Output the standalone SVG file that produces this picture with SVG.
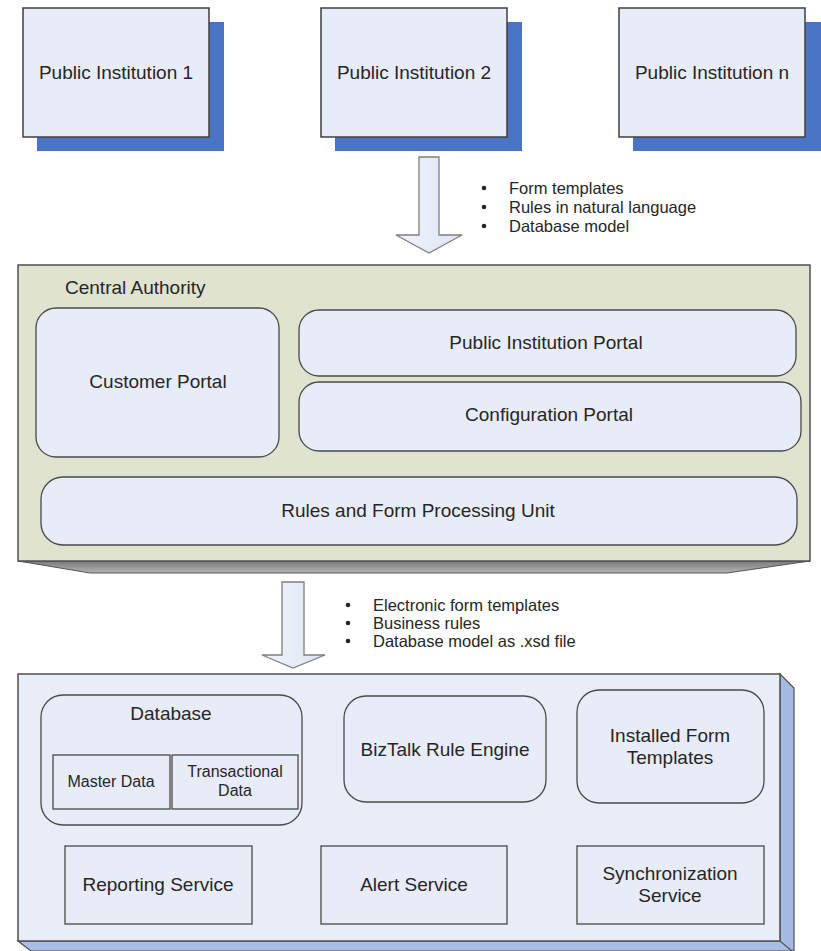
<svg xmlns="http://www.w3.org/2000/svg" width="821" height="951" viewBox="0 0 821 951">
<defs>
<style>
text{font-family:"Liberation Sans",Arial,sans-serif;fill:#262626}
.big{font-size:19px;text-anchor:middle}
.ttl{font-size:19px}
.bul{font-size:16.5px}
.sm{font-size:16px;text-anchor:middle}
.pi{fill:#e8ecf8;stroke:#3f3f3f;stroke-width:1.5}
.shd{fill:#4a74c4}
.inner{fill:#e8ecf8;stroke:#4a4a4a;stroke-width:1.3}
.arrow{fill:url(#ag);stroke:#7f7f7f;stroke-width:1.3}
</style>
<linearGradient id="ag" x1="0" y1="0" x2="1" y2="0">
<stop offset="0" stop-color="#f0f4fb"/><stop offset="1" stop-color="#dde6f4"/>
</linearGradient>
<linearGradient id="sg" x1="0" y1="0" x2="0" y2="1">
<stop offset="0" stop-color="#7a7a7a"/><stop offset="1" stop-color="#b4b4b4"/>
</linearGradient>
</defs>

<g id="pi1">
<rect class="shd" x="37" y="22" width="187" height="129"/>
<rect class="pi" x="23" y="8" width="186" height="129"/>
<text class="big" x="116" y="79">Public Institution 1</text>
</g>
<g id="pi2">
<rect class="shd" x="335" y="22" width="187" height="129"/>
<rect class="pi" x="321" y="8" width="186" height="129"/>
<text class="big" x="414" y="79">Public Institution 2</text>
</g>
<g id="pin">
<rect class="shd" x="633" y="22" width="188" height="129"/>
<rect class="pi" x="619" y="8" width="186" height="129"/>
<text class="big" x="712" y="79">Public Institution n</text>
</g>

<g id="connectors">
<path class="arrow" d="M419,157 H439 V235 H462 L429,253 L396,235 H419 Z"/>
<path class="arrow" d="M282,582 H304 V655 H325 L293,668 L262,655 H282 Z"/>
</g>

<g id="labels1">
<circle cx="484" cy="188" r="2.3" fill="#262626"/>
<circle cx="484" cy="207" r="2.3" fill="#262626"/>
<circle cx="484" cy="226" r="2.3" fill="#262626"/>
<text class="bul" x="509" y="194">Form templates</text>
<text class="bul" x="509" y="213">Rules in natural language</text>
<text class="bul" x="509" y="232">Database model</text>
</g>

<g id="central">
<path d="M18,561 H810 L727,573 H90 Z" fill="url(#sg)" stroke="#555" stroke-width="1"/>
<rect x="18" y="265" width="792" height="296" fill="#dfe3cf" stroke="#505050" stroke-width="1.5"/>
<text class="ttl" x="65" y="294">Central Authority</text>
</g>
<g id="customer-portal">
<rect class="inner" x="36" y="308" width="243" height="149" rx="20"/>
<text class="big" x="158" y="388">Customer Portal</text>
</g>
<g id="pi-portal">
<rect class="inner" x="299" y="310" width="497" height="66" rx="20"/>
<text class="big" x="546" y="349">Public Institution Portal</text>
</g>
<g id="config-portal">
<rect class="inner" x="299" y="382" width="502" height="69" rx="20"/>
<text class="big" x="549" y="421">Configuration Portal</text>
</g>
<g id="rules-unit">
<rect class="inner" x="41" y="477" width="756" height="68" rx="22"/>
<text class="big" x="418" y="517">Rules and Form Processing Unit</text>
</g>

<g id="labels2">
<circle cx="348" cy="605" r="2.3" fill="#262626"/>
<circle cx="348" cy="623" r="2.3" fill="#262626"/>
<circle cx="348" cy="641" r="2.3" fill="#262626"/>
<text class="bul" x="373" y="611">Electronic form templates</text>
<text class="bul" x="373" y="629">Business rules</text>
<text class="bul" x="373" y="647">Database model as .xsd file</text>
</g>

<g id="platform">
<path d="M780,674 L794,688 V951 H780 Z" fill="#a6bbe2" stroke="#505050" stroke-width="1.2"/>
<path d="M18,941 H780 L792,951 H31 Z" fill="#a9bee6" stroke="#505050" stroke-width="1.2"/>
<rect x="18" y="674" width="762" height="267" fill="#e9edf7" stroke="#505050" stroke-width="1.5"/>
</g>
<g id="database">
<rect class="inner" x="41" y="695" width="261" height="130" rx="22"/>
<text class="big" x="171" y="720">Database</text>
<rect class="inner" x="53" y="755" width="117" height="54"/>
<text class="sm" x="111" y="787">Master Data</text>
<rect class="inner" x="172" y="755" width="126" height="54"/>
<text class="sm" x="235" y="777">Transactional</text>
<text class="sm" x="235" y="796">Data</text>
</g>
<g id="biztalk">
<rect class="inner" x="344" y="696" width="202" height="106" rx="22"/>
<text class="big" x="445" y="756">BizTalk Rule Engine</text>
</g>
<g id="installed-templates">
<rect class="inner" x="577" y="690" width="187" height="113" rx="22"/>
<text class="big" x="670" y="742">Installed Form</text>
<text class="big" x="670" y="764">Templates</text>
</g>
<g id="reporting">
<rect class="inner" x="65" y="846" width="187" height="78"/>
<text class="big" x="158" y="891">Reporting Service</text>
</g>
<g id="alert">
<rect class="inner" x="321" y="846" width="186" height="78"/>
<text class="big" x="414" y="891">Alert Service</text>
</g>
<g id="sync">
<rect class="inner" x="577" y="846" width="187" height="78"/>
<text class="big" x="670" y="880">Synchronization</text>
<text class="big" x="670" y="902">Service</text>
</g>
</svg>
